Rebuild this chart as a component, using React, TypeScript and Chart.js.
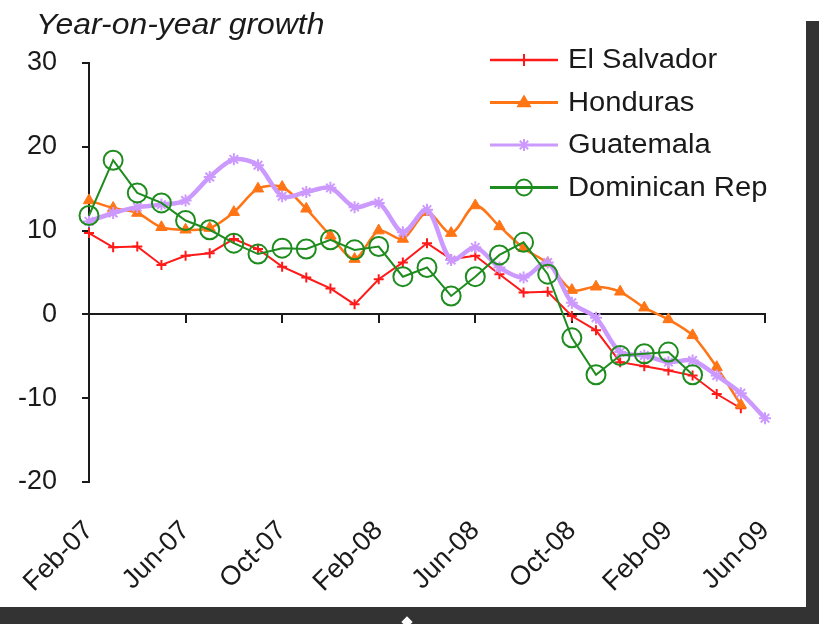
import React, { useEffect, useRef } from 'react';
import { Chart, registerables } from 'chart.js';

Chart.register(...registerables);

const months = [
  'Feb-07', 'Mar-07', 'Apr-07', 'May-07', 'Jun-07', 'Jul-07', 'Aug-07', 'Sep-07', 'Oct-07', 'Nov-07', 'Dec-07',
  'Jan-08', 'Feb-08', 'Mar-08', 'Apr-08', 'May-08', 'Jun-08', 'Jul-08', 'Aug-08', 'Sep-08', 'Oct-08', 'Nov-08', 'Dec-08',
  'Jan-09', 'Feb-09', 'Mar-09', 'Apr-09', 'May-09', 'Jun-09',
];

const elSalvador = [9.7, 8.0, 8.1, 5.9, 7.0, 7.3, 9.0, 7.8, 5.7, 4.4, 3.1, 1.2, 4.2, 6.2, 8.5, 6.6, 7.0, 4.8, 2.6, 2.7, -0.2, -1.9, -5.7, -6.2, -6.7, -7.3, -9.5, -11.2, null];
const honduras = [13.6, 12.7, 12.1, 10.4, 10.1, 10.3, 12.2, 15.0, 15.2, 12.6, 9.4, 6.6, 10.0, 9.0, 12.2, 9.7, 13.0, 10.5, 7.9, 6.1, 2.9, 3.3, 2.7, 0.8, -0.6, -2.5, -6.3, -10.8, null];
const guatemala = [11.1, 12.1, 12.8, 13.1, 13.6, 16.4, 18.5, 17.8, 14.1, 14.6, 15.1, 12.8, 13.3, 9.8, 12.5, 6.5, 8.0, 5.6, 4.4, 6.2, 1.4, -0.4, -4.5, -4.9, -5.7, -5.5, -7.3, -9.4, -12.4];
const dominicanRep = [11.8, 18.4, 14.5, 13.3, 11.2, 10.1, 8.5, 7.2, 7.9, 7.8, 8.9, 7.7, 8.1, 4.5, 5.6, 2.2, 4.5, 7.1, 8.6, 4.8, -2.8, -7.2, -4.9, -4.7, -4.5, -7.2, null, null, null];

const seriesNames = ['El Salvador', 'Honduras', 'Guatemala', 'Dominican Rep'];
const yTicks = [-20, -10, 0, 10, 20, 30];
const titleText = 'Year-on-year growth';

const FONT = "'Liberation Sans', Arial, sans-serif";
const INK = '#1a1a1a';
const RED = '#ff1a1a';
const ORANGE = '#ff7415';
const PURPLE = '#cc99ff';
const GREEN = '#1f8c1f';

function drawMarker(ctx: CanvasRenderingContext2D, style: string, x: number, y: number, r: number, color: string) {
  ctx.save();
  ctx.strokeStyle = color;
  ctx.fillStyle = color;
  ctx.lineWidth = 2;
  ctx.beginPath();
  if (style === 'cross') {
    ctx.moveTo(x - r, y); ctx.lineTo(x + r, y);
    ctx.moveTo(x, y - r); ctx.lineTo(x, y + r);
    ctx.stroke();
  } else if (style === 'triangle') {
    ctx.moveTo(x, y - r);
    ctx.lineTo(x + r * 0.95, y + r * 0.6);
    ctx.lineTo(x - r * 0.95, y + r * 0.6);
    ctx.closePath();
    ctx.fill();
  } else if (style === 'star') {
    ctx.moveTo(x - r, y); ctx.lineTo(x + r, y);
    ctx.moveTo(x, y - r); ctx.lineTo(x, y + r);
    const d = r * 0.7;
    ctx.moveTo(x - d, y - d); ctx.lineTo(x + d, y + d);
    ctx.moveTo(x - d, y + d); ctx.lineTo(x + d, y - d);
    ctx.stroke();
  } else {
    ctx.arc(x, y, r, 0, Math.PI * 2);
    ctx.stroke();
  }
  ctx.restore();
}

const legendPlugin = {
  id: 'customLegend',
  afterDraw(chart: any) {
    const ctx = chart.ctx as CanvasRenderingContext2D;
    const sets = chart.data.datasets;
    ctx.save();
    sets.forEach((ds: any, i: number) => {
      const y = 60 + i * 42.5;
      ctx.strokeStyle = ds.borderColor;
      ctx.lineWidth = ds.legendLineWidth;
      ctx.beginPath();
      ctx.moveTo(490, y);
      ctx.lineTo(558, y);
      ctx.stroke();
      drawMarker(ctx, ds.pointStyle, 524, y, ds.legendMarker, ds.borderColor);
      ctx.save();
      ctx.translate(568, y + 1);
      ctx.scale(1.08, 1);
      ctx.fillStyle = INK;
      ctx.font = `27px ${FONT}`;
      ctx.textAlign = 'left';
      ctx.textBaseline = 'middle';
      ctx.fillText(ds.label, 0, 0);
      ctx.restore();
    });
    ctx.restore();
  },
};

const titlePlugin = {
  id: 'cornerTitle',
  afterDraw(chart: any) {
    const ctx = chart.ctx as CanvasRenderingContext2D;
    ctx.save();
    ctx.translate(36, 34);
    ctx.scale(1.1, 1);
    ctx.fillStyle = INK;
    ctx.font = `italic 29px ${FONT}`;
    ctx.textAlign = 'left';
    ctx.textBaseline = 'alphabetic';
    ctx.fillText(titleText, 0, 0);
    ctx.restore();
  },
};

export default function App() {
  const ref = useRef<HTMLCanvasElement | null>(null);

  useEffect(() => {
    if (!ref.current) return;
    const chart = new Chart(ref.current, {
      type: 'line',
      data: {
        labels: months,
        datasets: [
          {
            label: seriesNames[0], data: elSalvador, borderColor: RED, backgroundColor: RED,
            borderWidth: 2, pointStyle: 'cross', pointRadius: 5, pointBorderWidth: 2, tension: 0,
            order: 4, legendLineWidth: 2.5, legendMarker: 6,
          } as any,
          {
            label: seriesNames[1], data: honduras, borderColor: ORANGE, backgroundColor: ORANGE,
            borderWidth: 2.5, pointStyle: 'triangle', pointRadius: 6.5, pointBorderWidth: 1, tension: 0.3,
            order: 3, legendLineWidth: 3, legendMarker: 8,
          } as any,
          {
            label: seriesNames[2], data: guatemala, borderColor: PURPLE, backgroundColor: PURPLE,
            borderWidth: 4.5, pointStyle: 'star', pointRadius: 6, pointBorderWidth: 2, tension: 0.3,
            order: 2, legendLineWidth: 3, legendMarker: 6,
          } as any,
          {
            label: seriesNames[3], data: dominicanRep, borderColor: GREEN, backgroundColor: 'rgba(0,0,0,0)',
            borderWidth: 2, pointStyle: 'circle', pointRadius: 9.5, pointBorderWidth: 2, tension: 0,
            order: 1, legendLineWidth: 3, legendMarker: 8,
          } as any,
        ],
      },
      options: {
        animation: false,
        responsive: false,
        maintainAspectRatio: false,
        spanGaps: false,
        layout: { padding: { top: 63, right: 54, bottom: 0, left: 0 } },
        plugins: {
          legend: { display: false },
          title: { display: false },
          tooltip: { enabled: false },
        },
        scales: {
          x: {
            type: 'category',
            labels: months,
            offset: false,
            position: 'bottom',
            grid: { display: false, drawTicks: false },
            border: { display: false },
            ticks: {
              autoSkip: false,
              maxRotation: 45,
              minRotation: 45,
              padding: 33,
              color: INK,
              font: { family: FONT, size: 27 },
              callback: (_v: any, i: number) => (i % 4 === 0 ? months[i] : ''),
            },
            afterFit: (s: any) => { s.height = 142; s.paddingLeft = 0; s.paddingRight = 0; },
          },
          x2: {
            type: 'category',
            labels: months,
            offset: false,
            position: { y: 0 },
            grid: {
              display: true,
              drawOnChartArea: false,
              drawTicks: true,
              tickLength: 8,
              lineWidth: 2,
              color: (c: any) => (c.index % 4 === 0 ? INK : 'rgba(0,0,0,0)'),
            },
            border: { display: true, color: INK, width: 2 },
            ticks: { display: false },
            afterFit: (s: any) => { s.paddingLeft = 0; s.paddingRight = 0; },
          },
          y: {
            type: 'linear',
            position: 'left',
            min: yTicks[0],
            max: yTicks[yTicks.length - 1],
            afterBuildTicks: (s: any) => { s.ticks = yTicks.map((v) => ({ value: v })); },
            ticks: { padding: 25, color: INK, font: { family: FONT, size: 27 } },
            grid: { drawOnChartArea: false, drawTicks: true, tickLength: 7, lineWidth: 2, color: INK },
            border: { color: INK, width: 2 },
            afterFit: (s: any) => { s.width = 89; },
          },
        },
      } as any,
      plugins: [legendPlugin, titlePlugin],
    });
    return () => chart.destroy();
  }, []);

  return (
    <div style={{ position: 'fixed', left: 0, top: 0, width: 819, height: 624, background: '#fff', overflow: 'hidden' }}>
      <canvas ref={ref} width={819} height={624} style={{ position: 'absolute', left: 0, top: 0, display: 'block' }} />
      <div style={{ position: 'absolute', left: 806, top: 21, width: 13, height: 603, background: '#333' }} />
      <div style={{ position: 'absolute', left: 0, top: 607, width: 819, height: 17, background: '#333' }} />
      <div style={{ position: 'absolute', left: 403, top: 618, width: 8, height: 8, background: '#fff', transform: 'rotate(45deg)' }} />
    </div>
  );
}
